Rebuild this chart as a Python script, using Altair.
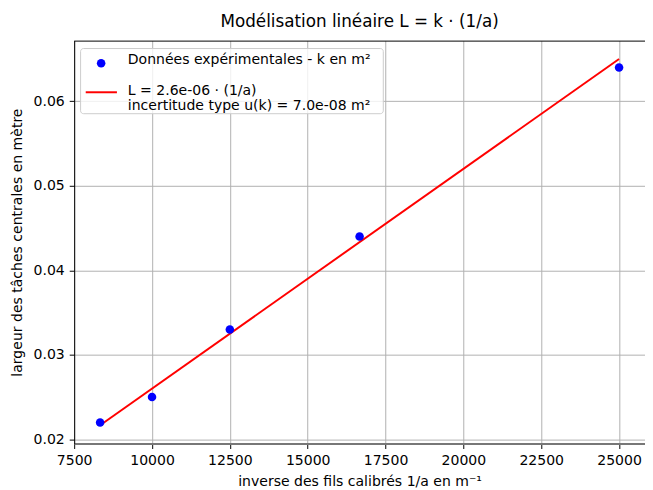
import altair as alt
import pandas as pd

# Experimental data
inv_a = [8333.33, 10000.0, 12500.0, 16666.67, 25000.0]   # 1/a en m^-1
largeur = [0.022, 0.025, 0.033, 0.044, 0.064]            # L en m

# Fitted line endpoints (L = 2.6e-06 * (1/a))
fit_x = [8333.33, 25000.0]
fit_y = [0.021667, 0.065]

x_ticks = [7500, 10000, 12500, 15000, 17500, 20000, 22500, 25000]
y_ticks = [0.02, 0.03, 0.04, 0.05, 0.06]

title_text = "Modélisation linéaire L = k · (1/a)"
x_title = "inverse des fils calibrés 1/a en m⁻¹"
y_title = "largeur des tâches centrales en mètre"
legend_point = "Données expérimentales - k en m²"
legend_line = ["L = 2.6e-06 · (1/a)", "incertitude type u(k) = 7.0e-08 m²"]

FONT = "DejaVu Sans"
FS = 14.2
W, H = 578, 408

pts = pd.DataFrame({"x": inv_a, "y": largeur})
fit = pd.DataFrame({"x": fit_x, "y": fit_y})
one = pd.DataFrame({"d": [0]})

xs = alt.Scale(domain=[7500, 25833], nice=False, zero=False)
ys = alt.Scale(domain=[0.0195, 0.06717], nice=False, zero=False)

xaxis = alt.Axis(values=x_ticks, format="d", title=x_title, grid=True, labelFlush=False,
                 domainColor="#777777", domainWidth=2, tickSize=5, tickColor="black",
                 labelPadding=5, titlePadding=7)
yaxis = alt.Axis(values=y_ticks, format=".2f", title=y_title, grid=True, labelFlush=False,
                 domainColor="black", domainWidth=1, tickSize=5, tickColor="black",
                 labelPadding=5, titlePadding=9)

points = alt.Chart(pts).mark_circle(size=75, color="#0000ff", opacity=1).encode(
    x=alt.X("x:Q", scale=xs, axis=xaxis),
    y=alt.Y("y:Q", scale=ys, axis=yaxis),
)

line = alt.Chart(fit).mark_line(color="#ff0000", strokeWidth=2).encode(
    x=alt.X("x:Q", scale=xs),
    y=alt.Y("y:Q", scale=ys),
)

top_spine = alt.Chart(one).mark_rule(color="black", strokeWidth=1).encode(
    x=alt.value(0), x2=alt.value(W), y=alt.value(0.5)
)

leg_box = alt.Chart(one).mark_rect(fill="white", fillOpacity=0.8, stroke="#cccccc",
                                   strokeWidth=1, cornerRadius=3).encode(
    x=alt.value(6.5), x2=alt.value(313), y=alt.value(8), y2=alt.value(74)
)
leg_dot = alt.Chart(one).mark_circle(size=75, color="#0000ff", opacity=1).encode(
    x=alt.value(27.3), y=alt.value(23)
)
leg_rule = alt.Chart(one).mark_rule(color="#ff0000", strokeWidth=2).encode(
    x=alt.value(11.7), x2=alt.value(43.3), y=alt.value(52.3)
)
txt_kw = dict(align="left", baseline="middle", font=FONT, fontSize=FS, color="black")
leg_t1 = alt.Chart(one).mark_text(text=legend_point, **txt_kw).encode(
    x=alt.value(54.3), y=alt.value(19.7)
)
leg_t2 = alt.Chart(one).mark_text(text=legend_line, lineHeight=14.4, **txt_kw).encode(
    x=alt.value(54.3), y=alt.value(51.5)
)

chart = alt.layer(
    line, points, top_spine, leg_box, leg_dot, leg_rule, leg_t1, leg_t2
).properties(
    width=W, height=H,
    title=alt.TitleParams(title_text, font=FONT, fontSize=17, fontWeight="normal",
                          color="black", anchor="middle", offset=10),
    autosize=alt.AutoSizeParams(type="none"),
    padding={"left": 67, "top": 30, "right": 0, "bottom": 44},
).configure_view(stroke=None).configure_axis(
    labelFont=FONT, titleFont=FONT, labelFontSize=FS, titleFontSize=FS,
    titleFontWeight="normal", labelColor="black", titleColor="black",
    gridColor="#b0b0b0", gridWidth=1, gridOpacity=1,
)

chart.save("out.html", embed_options={"renderer": "svg", "actions": False})
